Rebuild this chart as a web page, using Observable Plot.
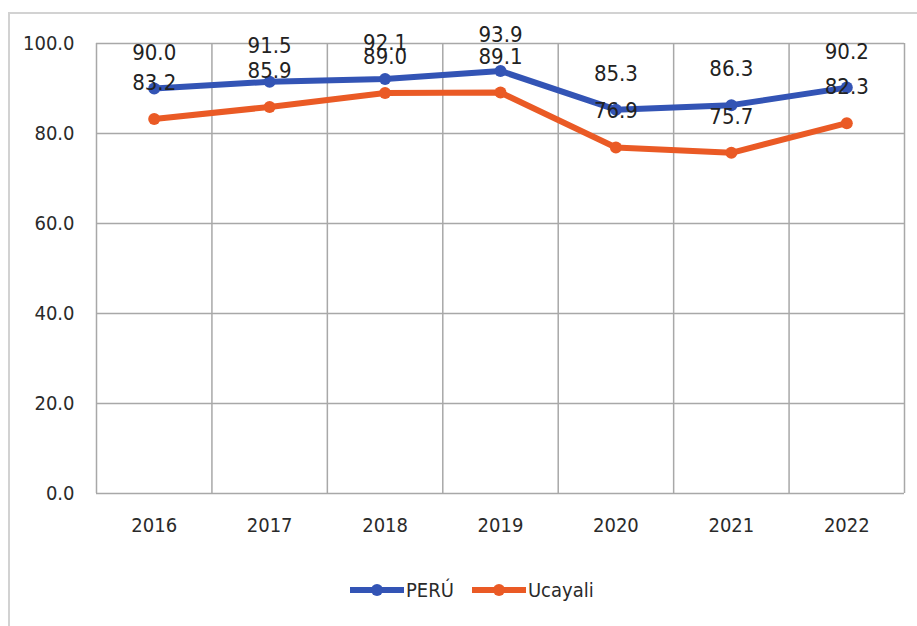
<!DOCTYPE html>
<html>
<head>
<meta charset="utf-8">
<script src="https://cdn.jsdelivr.net/npm/d3@7"></script>
<script src="https://cdn.jsdelivr.net/npm/@observablehq/plot@0.6"></script>
<style>
  html, body { margin: 0; padding: 0; background: #fff; }
  body { width: 917px; height: 626px; position: relative; overflow: hidden;
         font-family: "DejaVu Sans Condensed", "Liberation Sans Narrow", "Liberation Sans", sans-serif; }
  #frame { position: absolute; left: 8px; top: 12px; width: 920px; height: 640px;
           border-left: 2px solid #d2d2d2; border-top: 2px solid #d2d2d2; box-sizing: border-box; }
  #chart { position: absolute; left: 0; top: 0; }
  #legend { position: absolute; top: 578px; left: 350px; display: flex; align-items: center;
            font-size: 20px; color: #2a2a2a; }
  .item { display: flex; align-items: center; margin-right: 18px; }
  .item svg { margin-right: 2px; }
</style>
</head>
<body>
<div id="frame"></div>
<div id="chart"></div>
<div id="legend"></div>
<script>
const years = [2016, 2017, 2018, 2019, 2020, 2021, 2022];
const peru = [90.0, 91.5, 92.1, 93.9, 85.3, 86.3, 90.2];
const ucayali = [83.2, 85.9, 89.0, 89.1, 76.9, 75.7, 82.3];
const seriesNames = ["PERÚ", "Ucayali"];
const seriesColors = ["#3354b5", "#ea5a25"];
const yTicks = [0, 20, 40, 60, 80, 100];

const data = [];
years.forEach((y, i) => {
  data.push({year: y, value: peru[i], series: "PERÚ"});
  data.push({year: y, value: ucayali[i], series: "Ucayali"});
});
const bounds = d3.range(years.length + 1).map(i => years[0] - 0.5 + i);

const plot = Plot.plot({
  width: 917,
  height: 560,
  marginLeft: 96,
  marginRight: 13,
  marginTop: 43,
  marginBottom: 67,
  style: {fontFamily: '"DejaVu Sans Condensed", "Liberation Sans Narrow", sans-serif', fontSize: "20px", color: "#2a2a2a", background: "transparent"},
  x: {domain: [bounds[0], bounds[bounds.length - 1]], ticks: years, tickFormat: d => String(d), label: null, tickSize: 0, tickPadding: 22},
  y: {domain: [0, 100], ticks: yTicks, tickFormat: d => d.toFixed(1), label: null, tickSize: 0, tickPadding: 22},
  color: {domain: seriesNames, range: seriesColors},
  marks: [
    Plot.ruleY(yTicks, {stroke: "#a8a8a8", strokeWidth: 1.5, strokeOpacity: 1}),
    Plot.ruleX(bounds, {stroke: "#a8a8a8", strokeWidth: 1.5, strokeOpacity: 1}),
    Plot.lineY(data, {x: "year", y: "value", stroke: "series", strokeWidth: 6}),
    Plot.dot(data, {x: "year", y: "value", fill: "series", r: 6}),
    Plot.text(data, {x: "year", y: "value", text: d => d.value.toFixed(1), dy: -36, fill: "#222", fontSize: 22}),
    Plot.axisX({ticks: years, tickFormat: d => String(d), tickSize: 0, tickPadding: 24, fill: "#2a2a2a", fontSize: 20}),
    Plot.axisY({ticks: yTicks, tickFormat: d => d.toFixed(1), tickSize: 0, tickPadding: 22, fill: "#2a2a2a", fontSize: 20})
  ]
});
document.getElementById("chart").appendChild(plot);

const legend = document.getElementById("legend");
seriesNames.forEach((name, i) => {
  const item = document.createElement("div");
  item.className = "item";
  item.innerHTML = `<svg width="54" height="14"><line x1="0" y1="7" x2="54" y2="7" stroke="${seriesColors[i]}" stroke-width="6"/><circle cx="27" cy="7" r="6" fill="${seriesColors[i]}"/></svg><span>${name}</span>`;
  legend.appendChild(item);
});
</script>
</body>
</html>
